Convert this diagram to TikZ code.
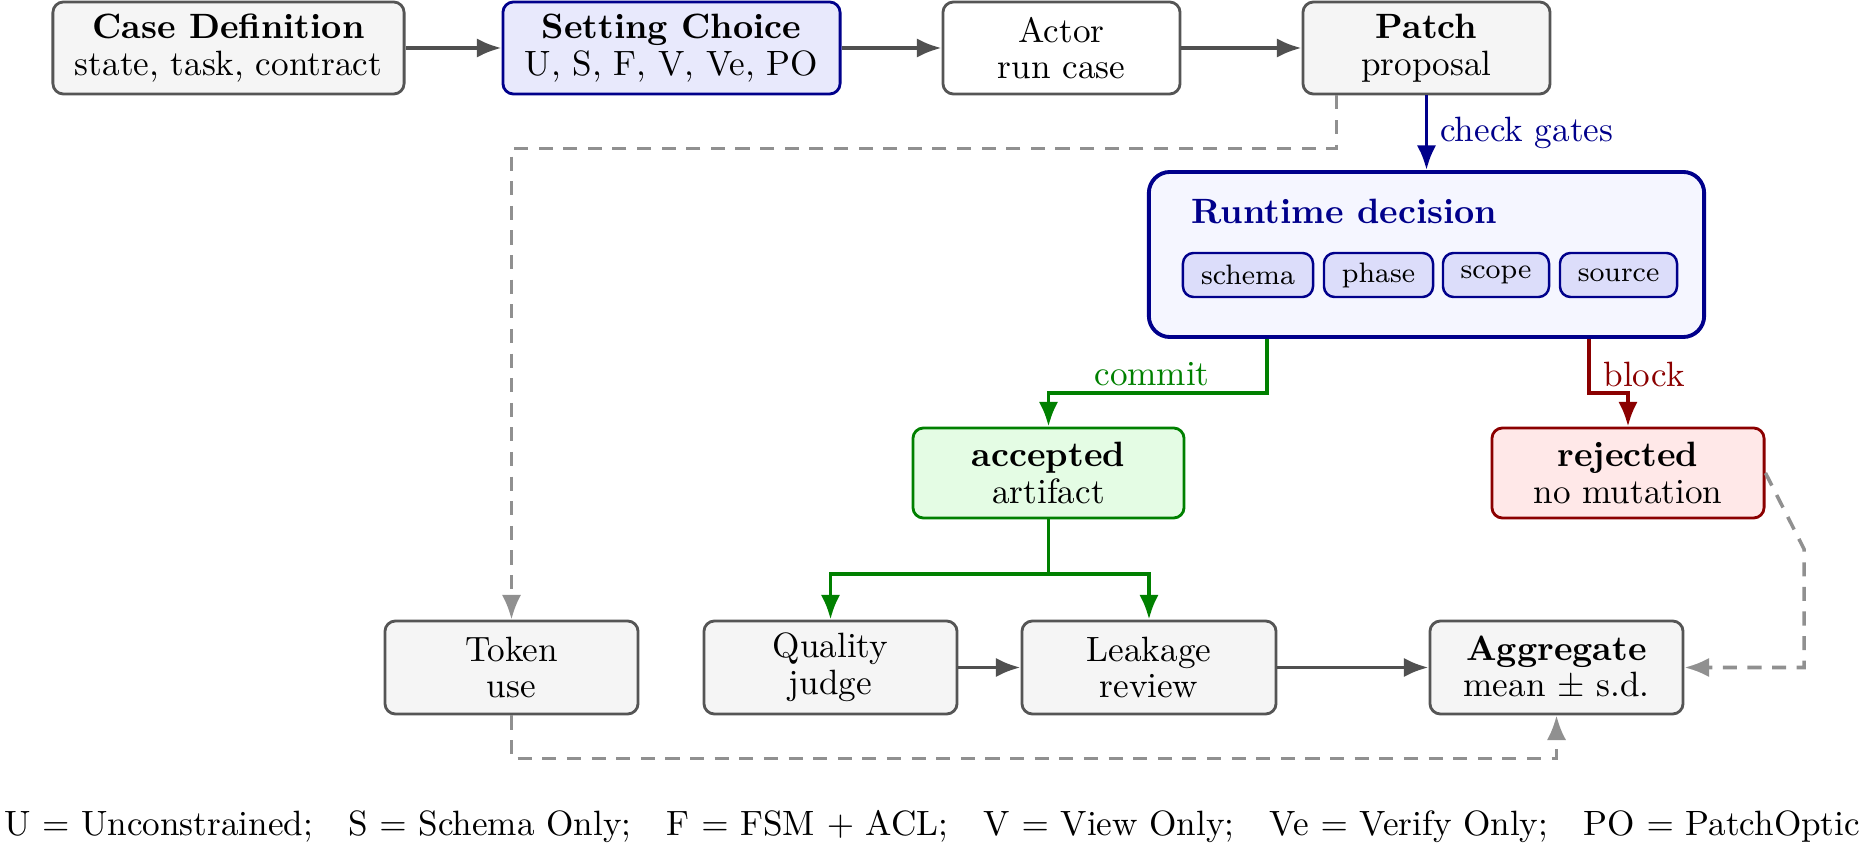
\documentclass[tikz,border=0pt]{standalone}
\usetikzlibrary{arrows.meta,calc}
\definecolor{boxfill}{HTML}{F5F5F5}
\definecolor{boxdraw}{HTML}{555555}
\definecolor{navy}{RGB}{0,0,139}
\definecolor{setfill}{HTML}{E8E9FC}
\definecolor{rtfill}{HTML}{F5F6FF}
\definecolor{gatefill}{HTML}{DCDDFA}
\definecolor{accfill}{HTML}{E4FCE4}
\definecolor{accdraw}{RGB}{0,128,0}
\definecolor{rejfill}{HTML}{FFE8E8}
\definecolor{rejdraw}{RGB}{139,0,0}
\definecolor{arrowgray}{HTML}{505050}
\definecolor{dashgray}{HTML}{909090}
\newcommand{\nl}{\\[-1.6pt]}
\begin{document}
\begin{tikzpicture}[x=0.01cm,y=-0.01cm,
  box/.style={draw=boxdraw, fill=boxfill, rounded corners=3pt, line width=0.8pt, align=center, inner sep=2pt, minimum height=0.92cm},
  gate/.style={draw=navy, fill=gatefill, rounded corners=3pt, line width=0.7pt, font=\footnotesize, inner sep=1pt, minimum height=0.44cm},
  arr/.style={draw=arrowgray, line width=1.1pt, -{Latex[length=7pt,width=5.5pt]}},
  dasharr/.style={draw=dashgray, line width=1pt, dash pattern=on 4pt off 3pt, -{Latex[length=7pt,width=5.5pt]}}
]
\useasboundingbox (0,0) rectangle (1860,846);

% top row
\node[box, minimum width=3.51cm] (case) at (228.5,48) {\textbf{Case Definition}\nl state, task, contract};
\node[box, draw=navy, fill=setfill, minimum width=3.37cm] (setting) at (671.5,48) {\textbf{Setting Choice}\nl U, S, F, V, Ve, PO};
\node[box, fill=white, minimum width=2.37cm] (actor) at (1061.5,48) {Actor\nl run case};
\node[box, minimum width=2.47cm] (patch) at (1426.5,48) {\textbf{Patch}\nl proposal};

% runtime decision
\node[box, draw=navy, fill=rtfill, line width=1.1pt, rounded corners=6pt, minimum width=5.55cm, minimum height=1.65cm] (runtime) at (1426.5,254.5) {};
\node[anchor=west, text=navy, font=\bfseries] (rttitle) at (1179,211) {Runtime decision};
\node[gate, minimum width=1.30cm] (schema) at (1248,275) {schema};
\node[gate, minimum width=1.09cm] (phase) at (1378.5,275) {phase};
\node[gate, minimum width=1.06cm] (scope) at (1496,275) {scope};
\node[gate, minimum width=1.17cm] (source) at (1618.5,275) {source};

% outcomes
\node[box, draw=accdraw, fill=accfill, minimum width=2.71cm, minimum height=0.90cm] (accepted) at (1048.5,473) {\textbf{accepted}\nl artifact};
\node[box, draw=rejdraw, fill=rejfill, minimum width=2.72cm, minimum height=0.90cm] (rejected) at (1628,473) {\textbf{rejected}\nl no mutation};

% bottom row
\node[box, minimum width=2.53cm, minimum height=0.93cm] (token) at (511.5,667.5) {Token\nl use};
\node[box, minimum width=2.53cm, minimum height=0.93cm] (quality) at (830.5,667.5) {Quality\nl judge};
\node[box, minimum width=2.54cm, minimum height=0.93cm] (leakage) at (1149,667.5) {Leakage\nl review};
\node[box, minimum width=2.53cm, minimum height=0.93cm] (aggregate) at (1556.5,667.5) {\textbf{Aggregate}\nl mean $\pm$ s.d.};

% footer
\node (footer) at (932,827) {U $=$ Unconstrained;\quad S $=$ Schema Only;\quad F $=$ FSM $+$ ACL;\quad V $=$ View Only;\quad Ve $=$ Verify Only;\quad PO $=$ PatchOptic};

% main flow
\draw[arr] (case) -- (setting);
\draw[arr] (setting) -- (actor);
\draw[arr] (actor) -- (patch);
\draw[arr, draw=navy] (patch) -- node[right, text=navy] {check gates} (runtime);

% commit / block
\coordinate (cstart) at ($(runtime.south west)+(120,0)$);
\coordinate (bstart) at ($(runtime.south east)+(-117,0)$);
\draw[arr, draw=accdraw] (cstart) -- ++(0,54) -| (accepted.north);
\node[text=accdraw] (commitlbl) at (1152,374) {commit};
\draw[arr, draw=rejdraw] (bstart) -- ++(0,54) -| (rejected.north);
\node[text=rejdraw] (blocklbl) at (1644,374) {block};

% accepted split
\coordinate (split) at (1048.5,574);
\draw[line width=1.1pt, draw=accdraw] (accepted.south) -- (split);
\draw[arr, draw=accdraw] (split) -| (quality.north);
\draw[arr, draw=accdraw] (split) -| (leakage.north);

\draw[arr] (quality) -- (leakage);
\draw[arr] (leakage) -- (aggregate);

% dashed connectors
\coordinate (pstart) at ($(patch.south west)+(35,0)$);
\draw[dasharr] (pstart) -- ++(0,53) -| (token.north);
\draw[dasharr] (token.south) -- ++(0,43) -| (aggregate.south);
\coordinate (rjbend) at (1804,549);
\draw[dasharr] (rejected.east) -- (rjbend) |- (aggregate.east);
\end{tikzpicture}
\end{document}
